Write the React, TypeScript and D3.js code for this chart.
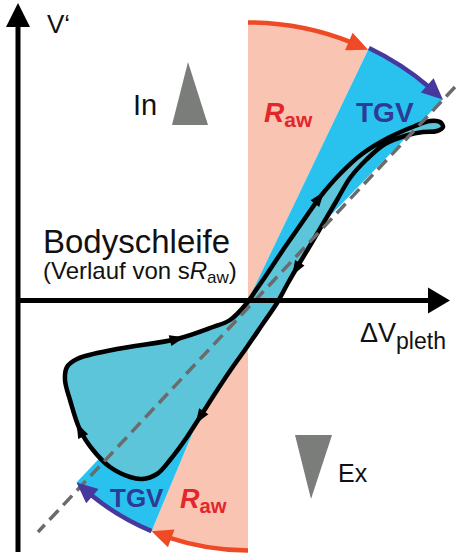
import { useEffect, useRef } from "react";
import * as d3 from "d3";

const W = 456;
const H = 554;

// schematic units (1 unit = 10 px), origin at the centre of the sectors
const xDomain = [-23, 20.2];
const yDomain = [-25.15, 29.75];

// body loop outline, clockwise starting at its upper-left corner
const loopX = [
  -18.1, -17.1, -13.1, -7.1, -3.5, -1.8, -0.1, 0.8, 1.7, 2.6, 3.5, 4.4, 5.3, 6.2, 7.2, 9.2, 11.4, 14.0,
  16.7, 18.2, 19.2, 19.5, 18.9, 17.5, 16.0, 13.7, 11.8, 10.2, 8.9, 7.6, 6.3, 5.1, 4.0, 2.9, 1.4, -0.1,
  -1.6, -3.2, -4.8, -6.1, -7.8, -9.1, -10.6, -11.8, -13.8, -15.5, -16.8, -17.8, -18.3,
];
const loopY = [
  -6.65, -5.85, -4.85, -3.85, -2.65, -1.95, -0.25, 1.05, 2.35, 3.7, 5.05, 6.35, 7.65, 8.95, 10.35,
  12.65, 14.65, 16.25, 17.45, 17.95, 17.85, 17.35, 16.95, 16.85, 16.55, 15.65, 14.05, 12.25, 10.05,
  7.85, 5.65, 3.65, 1.75, -0.25, -2.45, -4.65, -6.75, -9.15, -11.65, -13.65, -15.95, -17.35, -17.85,
  -17.65, -16.65, -14.95, -12.95, -9.95, -7.95,
];

// direction arrows on the loop
const arrowX = [-7.1, 7.0, 5.0, -4.8, -16.8];
const arrowY = [-3.85, 10.35, 3.05, -11.65, -12.95];

// dashed diagonal
const diagX = [20.7, -21.0];
const diagY = [21.35, -23.15];

// sectors: degrees clockwise from "up"
const sectorStart = [0, 25.6, 180, 202.7];
const sectorEnd = [25.6, 44.1, 202.7, 223.3];
const sectorRadius = [27.8, 28.0, 25.0, 25.0];
const sectorFill = ["#f9c4b1", "#29c1ee", "#f9c4b1", "#29c1ee"];
const arcColor = ["#ee4a25", "#46389c", "#ee4a25", "#46389c"];

// inspiration / expiration markers
const triUpX = [-7.6, -4.0, -6.0];
const triUpY = [17.55, 17.55, 23.85];
const triDownX = [4.7, 8.4, 6.3];
const triDownY = [-13.45, -13.45, -19.85];

export default function App() {
  const ref = useRef<SVGSVGElement>(null);

  useEffect(() => {
    document.body.style.margin = "0";
    const el = ref.current;
    if (!el) return;
    d3.select(el).selectAll("*").remove();

    const x = d3.scaleLinear().domain(xDomain).range([18, 450]);
    const y = d3.scaleLinear().domain(yDomain).range([552, 3]);
    const r = (d: number) => x(d) - x(0);
    const cx = x(0);
    const cy = y(0);
    const rad = (deg: number) => (deg * Math.PI) / 180;
    const font = "'Liberation Sans', Arial, sans-serif";

    const svg = d3.select(el);

    // sectors
    sectorStart.forEach((s, i) => {
      const arc = d3.arc<any>().innerRadius(0).outerRadius(r(sectorRadius[i]))
        .startAngle(rad(s)).endAngle(rad(sectorEnd[i]));
      svg.append("path").attr("d", arc({} as any) as string)
        .attr("transform", `translate(${cx},${cy})`)
        .attr("fill", sectorFill[i]);
    });

    // loop
    const pts: [number, number][] = loopX.map((v, i) => [x(v), y(loopY[i])]);
    const loopPath = svg.append("path")
      .attr("d", d3.line().curve(d3.curveCatmullRomClosed.alpha(0.5))(pts) as string)
      .attr("fill", "#5cc5da")
      .attr("stroke", "#000")
      .attr("stroke-width", 4.5)
      .attr("stroke-linejoin", "round");

    // dashed diagonal
    svg.append("line")
      .attr("x1", x(diagX[0])).attr("y1", y(diagY[0]))
      .attr("x2", x(diagX[1])).attr("y2", y(diagY[1]))
      .attr("stroke", "#6b6b6b").attr("stroke-width", 3.5)
      .attr("stroke-dasharray", "13,7");

    // loop direction arrows
    const node = loopPath.node() as SVGPathElement;
    const total = node.getTotalLength();
    arrowX.forEach((ax, i) => {
      const px = x(ax), py = y(arrowY[i]);
      let best = 0, bd = Infinity;
      for (let l = 0; l < total; l += 1) {
        const p = node.getPointAtLength(l);
        const d = (p.x - px) ** 2 + (p.y - py) ** 2;
        if (d < bd) { bd = d; best = l; }
      }
      const a = node.getPointAtLength((best - 3 + total) % total);
      const b = node.getPointAtLength((best + 3) % total);
      const ang = (Math.atan2(b.y - a.y, b.x - a.x) * 180) / Math.PI;
      const p = node.getPointAtLength(best);
      svg.append("path").attr("d", "M8,0 L-7,-5.5 L-7,5.5 Z")
        .attr("fill", "#000")
        .attr("transform", `translate(${p.x},${p.y}) rotate(${ang})`);
    });

    // arrows along the sector rims
    sectorStart.forEach((s, i) => {
      const R = r(sectorRadius[i]);
      const a0 = rad(s);
      const a1 = rad(sectorEnd[i]);
      const L = 21, w = 19;
      const ab = a1 - L / R;
      const p = d3.path();
      p.arc(cx, cy, R, a0 - Math.PI / 2, ab - Math.PI / 2 + 0.01);
      svg.append("path").attr("d", p.toString()).attr("fill", "none")
        .attr("stroke", arcColor[i]).attr("stroke-width", 4.5);
      const tx = cx + R * Math.sin(a1), ty = cy - R * Math.cos(a1);
      const bx = cx + R * Math.sin(ab), by = cy - R * Math.cos(ab);
      const dx = tx - bx, dy = ty - by;
      const len = Math.hypot(dx, dy);
      const nx = -dy / len, ny = dx / len;
      svg.append("path")
        .attr("d", `M${tx},${ty} L${bx + (nx * w) / 2},${by + (ny * w) / 2} L${bx - (nx * w) / 2},${by - (ny * w) / 2} Z`)
        .attr("fill", arcColor[i]);
    });

    // axes
    const x0 = x(xDomain[0]);
    svg.append("line").attr("x1", x0).attr("x2", x0).attr("y1", y(yDomain[0])).attr("y2", y(yDomain[1]) + 22)
      .attr("stroke", "#000").attr("stroke-width", 5);
    svg.append("path")
      .attr("d", `M${x0 - 12},${y(yDomain[1]) + 24} L${x0 + 12},${y(yDomain[1]) + 24} L${x0},${y(yDomain[1])} Z`)
      .attr("fill", "#000");
    svg.append("line").attr("x1", x0).attr("x2", x(xDomain[1]) - 20).attr("y1", cy).attr("y2", cy)
      .attr("stroke", "#000").attr("stroke-width", 5);
    svg.append("path")
      .attr("d", `M${x(xDomain[1]) - 22},${cy - 13} L${x(xDomain[1]) - 22},${cy + 13} L${x(xDomain[1])},${cy} Z`)
      .attr("fill", "#000");

    // In / Ex triangles
    const tri = (xs: number[], ys: number[]) =>
      "M" + xs.map((v, i) => `${x(v)},${y(ys[i])}`).join(" L") + " Z";
    svg.append("path").attr("d", tri(triUpX, triUpY)).attr("fill", "#7a7d7a");
    svg.append("path").attr("d", tri(triDownX, triDownY)).attr("fill", "#7a7d7a");

    // text
    const label = (tx: number, ty: number, size: number) =>
      svg.append("text").attr("x", x(tx)).attr("y", y(ty)).attr("font-family", font)
        .attr("font-size", size).attr("fill", "#111");

    label(-20.1, 26.75, 26).text("V‘");
    label(-11.5, 18.55, 29).text("In");
    label(9.0, -18.15, 25).text("Ex");
    label(-20.5, 4.8, 33).text("Bodyschleife");
    const sub = label(-20.5, 2.15, 24);
    sub.append("tspan").text("(Verlauf von s");
    sub.append("tspan").attr("font-style", "italic").text("R");
    sub.append("tspan").attr("font-size", 17).attr("dy", 4).text("aw");
    sub.append("tspan").attr("dy", -4).text(")");

    const dv = label(11.2, -4.15, 27);
    dv.append("tspan").text("ΔV");
    dv.append("tspan").attr("font-size", 23).attr("dy", 7).text("pleth");

    const raw = (tx: number, ty: number, size: number) => {
      const t = label(tx, ty, size).attr("fill", "#e3262b").attr("font-weight", "bold");
      t.append("tspan").attr("font-style", "italic").text("R");
      t.append("tspan").attr("font-size", size * 0.75).attr("dy", 5).text("aw");
    };
    raw(1.6, 17.85, 28);
    raw(-6.8, -20.75, 27);

    label(10.8, 17.85, 28).attr("fill", "#2c3b95").attr("font-weight", "bold").text("TGV");
    label(-13.8, -20.65, 26).attr("fill", "#2c3b95").attr("font-weight", "bold").text("TGV");
  }, []);

  return <svg ref={ref} width={W} height={H} style={{ display: "block" }} />;
}
